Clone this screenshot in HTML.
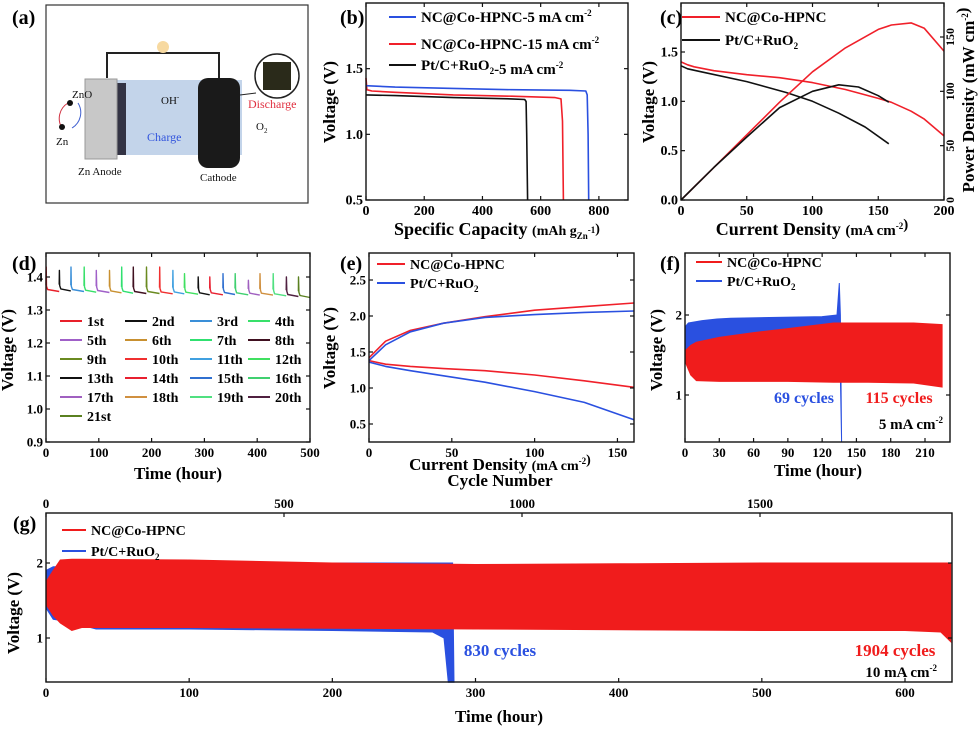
<!DOCTYPE html>
<html><head><meta charset="utf-8"><style>
body{margin:0;background:#fff}
svg{display:block;font-family:"Liberation Serif",serif;font-weight:bold}
</style></head><body>
<svg id="chart" width="980" height="729" viewBox="0 0 980 729" xmlns="http://www.w3.org/2000/svg">
<!-- panel a illustration -->
<g>
<rect x="46" y="5" width="262" height="198" fill="#fff" stroke="#333" stroke-width="1.2"/>
<polyline points="107,78 107,53 219,53 219,80" fill="none" stroke="#222" stroke-width="2"/>
<circle cx="163" cy="47" r="6" fill="#f7d9a0"/>
<rect x="112" y="80" width="130" height="75" fill="#b8cde6" opacity="0.85"/>
<rect x="116" y="83" width="10" height="72" fill="#334"/>
<rect x="85" y="79" width="32" height="80" fill="#c8c8c8" stroke="#999"/>
<rect x="198" y="78" width="42" height="90" rx="10" fill="#1a1a1a"/>
<circle cx="277" cy="76" r="22" fill="#fff" stroke="#222" stroke-width="1.5"/>
<rect x="263" y="62" width="28" height="28" fill="#2a2a1a"/>
<line x1="240" y1="95" x2="256" y2="93" stroke="#222"/>
<text x="72" y="98" font-size="11" font-weight="normal" fill="#111">ZnO</text>
<text x="56" y="145" font-size="11" font-weight="normal" fill="#111">Zn</text>
<text x="78" y="175" font-size="11" font-weight="normal" fill="#111">Zn Anode</text>
<text x="200" y="181" font-size="11" font-weight="normal" fill="#111">Cathode</text>
<text x="161" y="104" font-size="11" font-weight="normal" fill="#111">OH<tspan font-size="7" dy="-5">-</tspan></text>
<text x="147" y="141" font-size="12" font-weight="normal" fill="#3355dd">Charge</text>
<text x="248" y="108" font-size="12" font-weight="normal" fill="#e03040">Discharge</text>
<text x="256" y="130" font-size="11" font-weight="normal" fill="#111">O<tspan font-size="7" dy="3">2</tspan></text>
<path d="M68,103 A18,18 0 0 0 62,128" fill="none" stroke="#d03040"/>
<path d="M78,103 A18,18 0 0 1 72,128" fill="none" stroke="#4060d0"/>
<circle cx="70" cy="103" r="3" fill="#111"/><circle cx="62" cy="127" r="3" fill="#111"/>
</g>
<text x="12" y="24" font-size="20">(a)</text>
</svg>
<script>
// ---------- data ----------
// (b) discharge curves
const bBlueX=[0,100,300,500,700,755,760,763,765];
const bBlueY=[1.37,1.36,1.35,1.34,1.335,1.33,1.30,1.0,0.5];
const bRedX=[0,3,20,100,300,500,650,670,675,678];
const bRedY=[1.43,1.34,1.33,1.32,1.30,1.29,1.28,1.27,1.1,0.5];
const bBlackX=[0,100,300,500,545,550,552,555];
const bBlackY=[1.30,1.295,1.28,1.27,1.265,1.25,1.0,0.5];
// (c) polarization & power
const cJ=[0,5,10,25,50,75,100,125,150,160,175,185,200];
const cNCV=[1.4,1.37,1.35,1.31,1.27,1.24,1.19,1.12,1.03,0.99,0.9,0.82,0.65];
const cNCP=[0,6,12,30,60,90,118,140,157,161,163,158,137];
const cPtJ=[0,5,15,50,80,100,120,140,158];
const cPtV=[1.36,1.33,1.3,1.2,1.09,1.0,0.88,0.74,0.57];
const cPtJp=[0,25,50,75,100,120,135,150,158];
const cPtP=[0,30,58,85,100,106,104,96,90];
// (d) rate cycles
const dStart=[0,25,47,72,95,120,143,165,190,215,240,262,288,310,335,358,383,405,430,455,478];
const dPeak=[1.43,1.42,1.43,1.43,1.42,1.42,1.43,1.43,1.43,1.43,1.42,1.41,1.40,1.40,1.41,1.41,1.39,1.41,1.41,1.40,1.40];
const dBase=[1.36,1.362,1.36,1.358,1.357,1.356,1.355,1.354,1.354,1.353,1.353,1.352,1.35,1.35,1.351,1.35,1.349,1.349,1.347,1.345,1.342];
const dLabels=['1st','2nd','3rd','4th','5th','6th','7th','8th','9th','10th','11th','12th','13th','14th','15th','16th','17th','18th','19th','20th','21st'];
const dColors=['#e8202a','#111111','#3a8fd8','#38e06a','#a060c8','#c89030','#30e070','#401020','#6a8a20','#f03030','#40a0e0','#40e060','#111111','#e82030','#3070d0','#40d070','#a060c0','#d09040','#50e080','#502040','#5a8020'];
// (e) charge/discharge polarization
const eJ=[0,10,25,45,70,100,130,160];
const eRedUp=[1.42,1.65,1.8,1.9,1.99,2.08,2.13,2.18];
const eBlueUp=[1.38,1.6,1.78,1.9,1.98,2.02,2.05,2.07];
const eRedLo=[1.38,1.33,1.3,1.27,1.24,1.18,1.1,1.01];
const eBlueLo=[1.36,1.3,1.24,1.17,1.08,0.95,0.8,0.56];
// (f) 5 mA cycling envelopes
const fBlueT=[0,3,15,28,40,80,120,133,135,136,137];
const fBlueUp=[1.85,1.9,1.93,1.95,1.96,1.97,1.98,2.0,2.4,2.0,0.41];
const fBlueLo=[1.45,1.32,1.28,1.2,1.2,1.2,1.2,1.2,1.2,1.2,0.41];
const fRedT=[0,5,10,30,60,90,130,160,200,225];
const fRedUp=[1.55,1.62,1.66,1.72,1.78,1.83,1.9,1.9,1.9,1.88];
const fRedLo=[1.42,1.25,1.18,1.17,1.17,1.17,1.16,1.16,1.15,1.1];
// (g) 10 mA cycling envelopes
const gBlueT=[0,5,15,35,100,200,270,278,281,284,285];
const gBlueUp=[1.9,1.95,1.95,1.98,2.0,2.0,2.0,2.0,2.0,2.0,0.41];
const gBlueLo=[1.4,1.25,1.22,1.12,1.12,1.1,1.08,1.0,0.41,0.41,0.41];
const gRedT=[0,5,10,18,25,100,200,300,400,500,600,625,632];
const gRedUp=[1.75,1.9,2.04,2.05,2.05,2.04,2.0,1.98,1.99,2.0,2.0,2.0,2.0];
const gRedLo=[1.45,1.3,1.2,1.1,1.14,1.14,1.13,1.12,1.11,1.1,1.1,1.08,0.95];
const gCycleTicks=[0,500,1000,1500];

// ---------- helpers ----------
const NS='http://www.w3.org/2000/svg';
const svg=document.getElementById('chart');
function mk(tag,attrs,parent){const e=document.createElementNS(NS,tag);for(const k in attrs)e.setAttribute(k,attrs[k]);(parent||svg).appendChild(e);return e;}
function lin(d0,d1,p0,p1){return v=>p0+(v-d0)*(p1-p0)/(d1-d0);}
function txt(x,y,s,size,name,opts){const t=mk('text',Object.assign({x:x,y:y,'font-size':size},opts||{}));t.innerHTML=s;


return t;}
function frame(x0,y0,x1,y1,name){const r=mk('rect',{x:x0,y:y0,width:x1-x0,height:y1-y0,fill:'none',stroke:'#111','stroke-width':1.4});

}
function xTicks(sx,vals,yB,yT,labels,name,fs){vals.forEach((v,i)=>{const x=sx(v);
mk('line',{x1:x,y1:yB,x2:x,y2:yB-4,stroke:'#111','stroke-width':1.2});
if(yT!==null)mk('line',{x1:x,y1:yT,x2:x,y2:yT+4,stroke:'#111','stroke-width':1.2});
txt(x,yB+15,labels[i],fs||13,name,{'text-anchor':'middle'});});}
function yTicks(sy,vals,xL,xR,labels,name,fs){vals.forEach((v,i)=>{const y=sy(v);
mk('line',{x1:xL,y1:y,x2:xL+4,y2:y,stroke:'#111','stroke-width':1.2});
if(xR!==null)mk('line',{x1:xR,y1:y,x2:xR-4,y2:y,stroke:'#111','stroke-width':1.2});
txt(xL-3,y+4.5,labels[i],fs||13,name,{'text-anchor':'end'});});}
function line(xs,ys,sx,sy,color,name,w){const p=mk('polyline',{points:xs.map((x,i)=>sx(x).toFixed(1)+','+sy(ys[i]).toFixed(1)).join(' '),fill:'none',stroke:color,'stroke-width':w||1.6,'stroke-linejoin':'round'});


return p;}
function band(xs,up,lo,sx,sy,color,name){const pts=xs.map((x,i)=>sx(x).toFixed(1)+','+sy(up[i]).toFixed(1)).concat(xs.map((x,i)=>sx(x).toFixed(1)+','+sy(lo[i]).toFixed(1)).reverse());
const p=mk('polygon',{points:pts.join(' '),fill:color,stroke:color,'stroke-width':1});

}
function legend(x1,x2,y,color,label,name,fs){const l=mk('line',{x1:x1,y1:y,x2:x2,y2:y,stroke:color,'stroke-width':2});


txt(x2+5,y+5,label,fs,name);}
function ylabel(x,y,s,name,fs){txt(x,y,s,fs||17,name,{'text-anchor':'middle',transform:'rotate(-90 '+x+' '+y+')'});}
const sub=s=>'<tspan font-size="9" dy="4">'+s+'</tspan><tspan dy="-4"></tspan>';
const sup=s=>'<tspan font-size="9" dy="-6">'+s+'</tspan><tspan dy="6"></tspan>';

// ---------- (b) ----------
{const sx=lin(0,900,366,628),sy=lin(0.5,2.0,200,3);
line(bBlackX,bBlackY,sx,sy,'#111','b-pt-line');
line(bRedX,bRedY,sx,sy,'#f0202a','b-nc15-line');
line(bBlueX,bBlueY,sx,sy,'#2a50e0','b-nc5-line');
frame(366,3,628,200,'panel-b-plot-area');
xTicks(sx,[0,200,400,600,800],200,3,['0','200','400','600','800'],'b-x-tick',14);
yTicks(sy,[0.5,1.0,1.5],366,628,['0.5','1.0','1.5'],'b-y-tick',14);
ylabel(335,102,'Voltage (V)','b-y-axis-title');
txt(497,235,'Specific Capacity <tspan font-size="14">(mAh g'+sub('Zn')+sup('-1')+')</tspan>',18,'b-x-axis-title',{'text-anchor':'middle'});
legend(389,416,17,'#2a50e0','NC@Co-HPNC-5 mA cm'+sup('-2'),'b-legend-nc5',15);
legend(389,416,44,'#f0202a','NC@Co-HPNC-15 mA cm'+sup('-2'),'b-legend-nc15',15);
legend(389,416,65,'#111','Pt/C+RuO'+sub('2')+'-5 mA cm'+sup('-2'),'b-legend-pt',15);
txt(340,24,'(b)',20,'panel-label-b');}

// ---------- (c) ----------
{const sx=lin(0,200,681,944),sy=lin(0,1.5,200,52),sp=lin(0,150,200,37);
line(cJ,cNCV,sx,sy,'#f0202a','c-nc-voltage');
line(cPtJ,cPtV,sx,sy,'#111','c-pt-voltage');
line(cJ,cNCP,sx,sp,'#f0202a','c-nc-power');
line(cPtJp,cPtP,sx,sp,'#111','c-pt-power');
frame(681,3,944,200,'panel-c-plot-area');
xTicks(sx,[0,50,100,150,200],200,3,['0','50','100','150','200'],'c-x-tick',14);
yTicks(sy,[0,0.5,1.0,1.5],681,null,['0.0','0.5','1.0','1.5'],'c-y-tick',14);
[0,50,100,150].forEach(v=>{const y=sp(v);mk('line',{x1:944,y1:y,x2:940,y2:y,stroke:'#111','stroke-width':1.2});
txt(954,y,String(v),12,'c-right-tick',{'text-anchor':'middle',transform:'rotate(-90 954 '+y+')'});});
ylabel(654,102,'Voltage (V)','c-y-axis-title');
ylabel(974,100,'Power Density (mW cm'+sup('-2')+')','c-right-axis-title');
txt(812,235,'Current Density <tspan font-size="15">(mA cm'+sup('-2')+')</tspan>',18,'c-x-axis-title',{'text-anchor':'middle'});
legend(682,720,17,'#f0202a','NC@Co-HPNC','c-legend-nc',15);
legend(682,720,40,'#111','Pt/C+RuO'+sub('2'),'c-legend-pt',15);
txt(660,24,'(c)',20,'panel-label-c');}

// ---------- (d) ----------
{const sx=lin(0,500,46,310),sy=lin(0.9,1.4,442,277);
dStart.forEach((t,i)=>{const tn=i<dStart.length-1?dStart[i+1]:500;const b=dBase[i];
line([t,t+0.3,t+1,t+3,tn],[b+0.015,dPeak[i],b+0.012,b+0.002,b-0.004],sx,sy,dColors[i],'d-cycle-'+dLabels[i],1.4);});
frame(46,253,310,442,'panel-d-plot-area');
xTicks(sx,[0,100,200,300,400,500],442,253,['0','100','200','300','400','500'],'d-x-tick',13);
yTicks(sy,[0.9,1.0,1.1,1.2,1.3,1.4],46,310,['0.9','1.0','1.1','1.2','1.3','1.4'],'d-y-tick',13);
ylabel(13,350,'Voltage (V)','d-y-axis-title');
txt(178,479,'Time (hour)',17,'d-x-axis-title',{'text-anchor':'middle'});
const colX=[60,125,190,248];
dLabels.forEach((l,i)=>{const c=i%4,r=Math.floor(i/4);legend(colX[c],colX[c]+22,321+r*19,dColors[i],l,'d-legend-'+l,14);});
txt(12,270,'(d)',20,'panel-label-d');}

// ---------- (e) ----------
{const sx=lin(0,160,369,634),sy=lin(0.5,2.5,424,280);
line(eJ,eRedUp,sx,sy,'#f0202a','e-nc-charge');
line(eJ,eRedLo,sx,sy,'#f0202a','e-nc-discharge');
line(eJ,eBlueUp,sx,sy,'#2a50e0','e-pt-charge');
line(eJ,eBlueLo,sx,sy,'#2a50e0','e-pt-discharge');
frame(369,253,634,442,'panel-e-plot-area');
xTicks(sx,[0,50,100,150],442,253,['0','50','100','150'],'e-x-tick',13);
yTicks(sy,[0.5,1.0,1.5,2.0,2.5],369,634,['0.5','1.0','1.5','2.0','2.5'],'e-y-tick',13);
ylabel(335,348,'Voltage (V)','e-y-axis-title');
txt(500,470,'Current Density <tspan font-size="14">(mA cm'+sup('-2')+')</tspan>',17,'e-x-axis-title',{'text-anchor':'middle'});
txt(500,486,'Cycle Number',17,'g-top-axis-title',{'text-anchor':'middle'});
legend(377,405,264,'#f0202a','NC@Co-HPNC','e-legend-nc',14);
legend(377,405,283,'#2a50e0','Pt/C+RuO'+sub('2'),'e-legend-pt',14);
txt(340,270,'(e)',20,'panel-label-e');}

// ---------- (f) ----------
{const sx=lin(0,210,685,925),sy=lin(1,2,395,315);
band(fBlueT,fBlueUp,fBlueLo,sx,sy,'#2a50e0','f-pt-band');
band(fRedT,fRedUp,fRedLo,sx,sy,'#f01c1c','f-nc-band');
frame(685,253,950,442,'panel-f-plot-area');
xTicks(sx,[0,30,60,90,120,150,180,210],442,253,['0','30','60','90','120','150','180','210'],'f-x-tick',13);
yTicks(sy,[1,2],685,950,['1','2'],'f-y-tick',13);
ylabel(662,350,'Voltage (V)','f-y-axis-title');
txt(818,476,'Time (hour)',17,'f-x-axis-title',{'text-anchor':'middle'});
legend(696,722,262,'#f01c1c','NC@Co-HPNC','f-legend-nc',14);
legend(696,722,281,'#2a50e0','Pt/C+RuO'+sub('2'),'f-legend-pt',14);
txt(804,403,'69 cycles',16,'f-pt-cycles-note',{'text-anchor':'middle',fill:'#2a50e0'});
txt(899,403,'115 cycles',16,'f-nc-cycles-note',{'text-anchor':'middle',fill:'#f01c1c'});
txt(943,429,'5 mA cm'+sup('-2'),15,'f-current-note',{'text-anchor':'end'});
txt(660,270,'(f)',20,'panel-label-f');}

// ---------- (g) ----------
{const sx=lin(0,600,46,905),sy=lin(1,2,638,563),sc=lin(0,1500,46,760);
band(gBlueT,gBlueUp,gBlueLo,sx,sy,'#2a50e0','g-pt-band');
band(gRedT,gRedUp,gRedLo,sx,sy,'#f01c1c','g-nc-band');
frame(46,513,952,682,'panel-g-plot-area');
xTicks(sx,[0,100,200,300,400,500,600],682,null,['0','100','200','300','400','500','600'],'g-x-tick',13);
gCycleTicks.forEach(v=>{const x=sc(v);mk('line',{x1:x,y1:513,x2:x,y2:517,stroke:'#111','stroke-width':1.2});
txt(x,508,String(v),13,'g-cycle-tick',{'text-anchor':'middle'});});
yTicks(sy,[1,2],46,952,['1','2'],'g-y-tick',13);
ylabel(19,613,'Voltage (V)','g-y-axis-title');
txt(499,722,'Time (hour)',17,'g-x-axis-title',{'text-anchor':'middle'});
legend(62,86,530,'#f01c1c','NC@Co-HPNC','g-legend-nc',14);
legend(62,86,551,'#2a50e0','Pt/C+RuO'+sub('2'),'g-legend-pt',14);
txt(500,656,'830 cycles',17,'g-pt-cycles-note',{'text-anchor':'middle',fill:'#2a50e0'});
txt(895,656,'1904 cycles',17,'g-nc-cycles-note',{'text-anchor':'middle',fill:'#f01c1c'});
txt(937,677,'10 mA cm'+sup('-2'),15,'g-current-note',{'text-anchor':'end'});
txt(13,530,'(g)',20,'panel-label-g');}
</script>
</body></html>
